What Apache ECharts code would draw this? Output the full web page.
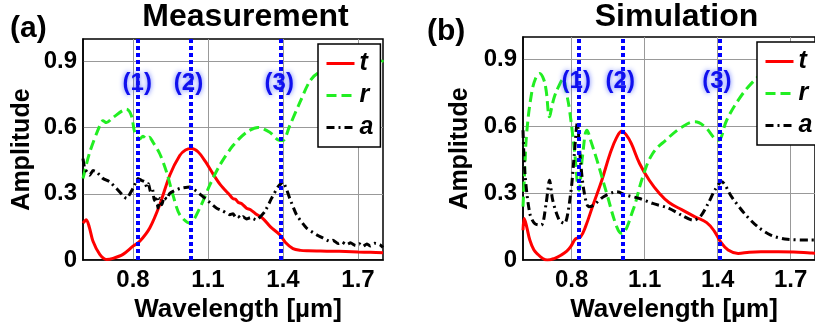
<!DOCTYPE html>
<html>
<head>
<meta charset="utf-8">
<script src="https://cdn.jsdelivr.net/npm/echarts@6/dist/echarts.min.js"></script>
<style>
html,body{margin:0;padding:0;background:#fff;}
#chart{width:815px;height:328px;}
</style>
</head>
<body>
<div id="chart"></div>
<script>
// ---- data (wavelength in µm, amplitude) ----
const xTicks = [0.8, 1.1, 1.4, 1.7];
const yTicks = [0, 0.3, 0.6, 0.9];
const seriesNames = ['t', 'r', 'a'];
const markerLabels = ['(1)', '(2)', '(3)'];
const measMarkers = [0.825, 1.03, 1.393];
const simMarkers = [0.827, 1.008, 1.405];

const measT = [[0.600,0.167],[0.613,0.182],[0.625,0.15],[0.64,0.085],[0.667,0.026],[0.694,0.003],[0.72,0.008],[0.76,0.026],[0.80,0.063],[0.827,0.085],[0.867,0.145],[0.907,0.25],[0.947,0.384],[0.987,0.473],[1.01,0.498],[1.034,0.505],[1.06,0.49],[1.09,0.445],[1.12,0.39],[1.15,0.34],[1.187,0.294],[1.20,0.278],[1.21,0.275],[1.22,0.262],[1.235,0.255],[1.254,0.235],[1.27,0.228],[1.29,0.21],[1.32,0.188],[1.35,0.15],[1.387,0.115],[1.41,0.08],[1.44,0.052],[1.47,0.044],[1.50,0.042],[1.55,0.041],[1.60,0.040],[1.65,0.039],[1.70,0.037],[1.75,0.035],[1.80,0.033]];
const measR = [[0.600,0.369],[0.627,0.488],[0.667,0.608],[0.68,0.63],[0.694,0.622],[0.72,0.645],[0.774,0.682],[0.794,0.652],[0.807,0.578],[0.827,0.548],[0.84,0.56],[0.854,0.548],[0.865,0.556],[0.88,0.533],[0.907,0.481],[0.934,0.399],[0.96,0.294],[0.987,0.205],[1.027,0.167],[1.067,0.235],[1.107,0.339],[1.147,0.429],[1.20,0.518],[1.254,0.578],[1.30,0.60],[1.347,0.578],[1.387,0.541],[1.40,0.541],[1.427,0.608],[1.467,0.712],[1.507,0.809],[1.54,0.846],[1.60,0.868],[1.70,0.882],[1.787,0.891],[1.80,0.905]];
const measA = [[0.600,0.459],[0.607,0.414],[0.627,0.384],[0.64,0.405],[0.654,0.399],[0.68,0.369],[0.707,0.354],[0.734,0.324],[0.774,0.279],[0.80,0.324],[0.82,0.369],[0.835,0.36],[0.847,0.354],[0.855,0.33],[0.862,0.345],[0.87,0.31],[0.878,0.32],[0.885,0.27],[0.893,0.29],[0.90,0.235],[0.908,0.28],[0.915,0.25],[0.925,0.285],[0.935,0.275],[0.947,0.302],[0.987,0.324],[1.027,0.331],[1.08,0.287],[1.134,0.235],[1.16,0.222],[1.175,0.212],[1.187,0.205],[1.20,0.21],[1.21,0.195],[1.22,0.2],[1.23,0.188],[1.24,0.196],[1.254,0.186],[1.27,0.192],[1.294,0.182],[1.327,0.219],[1.354,0.279],[1.38,0.331],[1.40,0.354],[1.427,0.279],[1.454,0.205],[1.494,0.145],[1.534,0.115],[1.56,0.1],[1.587,0.085],[1.60,0.09],[1.62,0.075],[1.635,0.082],[1.654,0.07],[1.67,0.078],[1.69,0.066],[1.705,0.074],[1.72,0.062],[1.735,0.073],[1.75,0.064],[1.765,0.076],[1.787,0.07],[1.80,0.058]];

const simT = [[0.600,0.134],[0.605,0.187],[0.615,0.15],[0.628,0.09],[0.645,0.045],[0.662,0.025],[0.68,0.008],[0.70,0.0],[0.73,0.008],[0.756,0.022],[0.78,0.04],[0.796,0.06],[0.816,0.095],[0.836,0.103],[0.857,0.15],[0.89,0.254],[0.924,0.358],[0.958,0.478],[0.985,0.55],[1.006,0.578],[1.025,0.56],[1.045,0.523],[1.079,0.433],[1.119,0.358],[1.16,0.30],[1.20,0.258],[1.254,0.225],[1.307,0.194],[1.355,0.168],[1.388,0.127],[1.41,0.085],[1.443,0.045],[1.484,0.03],[1.53,0.035],[1.578,0.037],[1.65,0.037],[1.712,0.036],[1.78,0.032],[1.80,0.031]];
const simR = [[0.600,0.24],[0.607,0.40],[0.615,0.567],[0.635,0.746],[0.652,0.815],[0.669,0.836],[0.685,0.81],[0.695,0.761],[0.709,0.642],[0.719,0.69],[0.729,0.732],[0.745,0.775],[0.764,0.81],[0.78,0.74],[0.791,0.675],[0.811,0.496],[0.83,0.313],[0.845,0.47],[0.863,0.582],[0.88,0.53],[0.904,0.448],[0.944,0.299],[0.985,0.15],[1.005,0.12],[1.052,0.224],[1.092,0.373],[1.133,0.478],[1.186,0.537],[1.254,0.597],[1.307,0.62],[1.348,0.597],[1.388,0.545],[1.403,0.537],[1.437,0.627],[1.484,0.716],[1.538,0.791],[1.60,0.85],[1.70,0.90],[1.80,0.93]];
const simA = [[0.600,0.582],[0.608,0.388],[0.628,0.209],[0.648,0.164],[0.675,0.157],[0.695,0.254],[0.709,0.358],[0.722,0.269],[0.749,0.179],[0.77,0.164],[0.796,0.299],[0.81,0.463],[0.823,0.612],[0.836,0.448],[0.85,0.313],[0.87,0.239],[0.89,0.246],[0.931,0.284],[0.985,0.306],[1.025,0.291],[1.079,0.276],[1.133,0.254],[1.20,0.232],[1.254,0.20],[1.30,0.179],[1.328,0.194],[1.361,0.254],[1.388,0.313],[1.416,0.351],[1.457,0.284],[1.51,0.209],[1.564,0.15],[1.618,0.112],[1.686,0.093],[1.78,0.09],[1.80,0.09]];

// ---- styling ----
const FONT = '"Liberation Sans", Arial, sans-serif';
const colors = { t: '#ff0000', r: '#22ee22', a: '#000000' };
const lineTypes = { t: 'solid', r: [10, 5], a: [8, 4, 2, 4] };

function xAxisCfg(gi) {
  return {
    type: 'value', gridIndex: gi, min: 0.6, max: 1.8,
    name: 'Wavelength [µm]', nameLocation: 'middle', nameGap: 30,
    nameTextStyle: { fontFamily: FONT, fontWeight: 'bold', fontSize: 26, color: '#000', padding: [0, 0, 0, 10] },
    axisLine: { show: true, onZero: false, lineStyle: { color: '#000', width: 1.5 } },
    axisTick: { show: false, customValues: xTicks },
    axisLabel: { customValues: xTicks, margin: 8, fontFamily: FONT, fontWeight: 'bold', fontSize: 24, color: '#000' },
    splitLine: { show: true, lineStyle: { color: '#999', width: 1 } }
  };
}
function yAxisCfg(gi, gap) {
  return {
    type: 'value', gridIndex: gi, min: 0, max: 1,
    name: 'Amplitude', nameLocation: 'middle', nameGap: gap,
    nameTextStyle: { fontFamily: FONT, fontWeight: 'bold', fontSize: 25, color: '#000' },
    axisLine: { show: true, lineStyle: { color: '#000', width: 1.5 } },
    axisTick: { show: false, customValues: yTicks },
    axisLabel: { customValues: yTicks, margin: 6, fontFamily: FONT, fontWeight: 'bold', fontSize: 24, color: '#000' },
    splitLine: { show: true, lineStyle: { color: '#999', width: 1 } }
  };
}

function lineSeries(name, data, gi, smooth) {
  return {
    name: name, type: 'line', xAxisIndex: gi, yAxisIndex: gi, data: data,
    showSymbol: false, symbol: 'none', smooth: smooth,
    lineStyle: { color: colors[name], width: 3, type: lineTypes[name] },
    itemStyle: { color: colors[name] },
    z: 3
  };
}
function markerSeries(gi, xs) {
  return {
    type: 'line', xAxisIndex: gi, yAxisIndex: gi, data: [], z: 10, silent: true,
    markLine: {
      symbol: 'none', silent: true, animation: false,
      label: { show: false },
      lineStyle: { color: '#0000ff', width: 4, type: [4, 3] },
      data: xs.map(x => ({ xAxis: x }))
    },
    markPoint: {
      symbol: 'circle', symbolSize: 0, silent: true, animation: false,
      label: {
        show: true, position: 'inside', offset: [-2, 0],
        fontFamily: FONT, fontWeight: 'bold', fontSize: 24, color: '#1010ee',
        textShadowColor: 'rgba(80,100,255,0.9)', textShadowBlur: 5,
        formatter: p => p.name
      },
      data: xs.map((x, i) => ({ name: markerLabels[i], coord: [x, 0.8] }))
    }
  };
}
function legendCfg(left, top) {
  return {
    data: seriesNames, orient: 'vertical', left: left, top: top,
    backgroundColor: '#fff', borderColor: '#000', borderWidth: 1.5, borderRadius: 0,
    padding: [7, 7, 7, 7], itemGap: 7, itemWidth: 28, itemHeight: 14,
    selectedMode: false,
    itemStyle: { opacity: 0 },
    lineStyle: { width: 3 },
    textStyle: { fontFamily: FONT, fontWeight: 'bold', fontStyle: 'italic', fontSize: 25, color: '#000' }
  };
}

const chart = echarts.init(document.getElementById('chart'), null, { renderer: 'canvas' });
chart.setOption({
  animation: false,
  backgroundColor: '#fff',
  graphic: [
    { type: 'text', x: 10, y: 29, style: { text: '(a)', font: 'bold 30px ' + FONT, fill: '#000', align: 'left', verticalAlign: 'middle' } },
    { type: 'text', x: 245.5, y: 17, style: { text: 'Measurement', font: 'bold 32px ' + FONT, fill: '#000', align: 'center', verticalAlign: 'middle' } },
    { type: 'text', x: 427, y: 32, style: { text: '(b)', font: 'bold 30px ' + FONT, fill: '#000', align: 'left', verticalAlign: 'middle' } },
    { type: 'text', x: 676.5, y: 17, style: { text: 'Simulation', font: 'bold 32px ' + FONT, fill: '#000', align: 'center', verticalAlign: 'middle' } }
  ],
  grid: [
    { left: 83, top: 39, width: 300, height: 223, show: true, borderColor: '#000', borderWidth: 1.5, backgroundColor: 'transparent' },
    { left: 523, top: 37, width: 297, height: 224, show: true, borderColor: '#000', borderWidth: 1.5, backgroundColor: 'transparent' }
  ],
  xAxis: [xAxisCfg(0), xAxisCfg(1)],
  yAxis: [yAxisCfg(0, 48), yAxisCfg(1, 50)],
  legend: [legendCfg(318, 44), legendCfg(757, 42)],
  series: [
    lineSeries('t', measT, 0, 0.3),
    lineSeries('r', measR, 0, 0.3),
    lineSeries('a', measA, 0, 0.15),
    markerSeries(0, measMarkers),
    lineSeries('t', simT, 1, 0.4),
    lineSeries('r', simR, 1, 0.4),
    lineSeries('a', simA, 1, 0.3),
    markerSeries(1, simMarkers)
  ]
});
</script>
</body>
</html>
